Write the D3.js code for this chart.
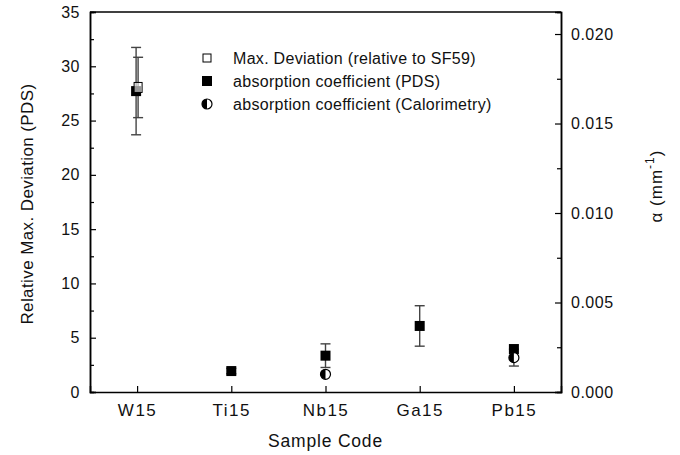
<!DOCTYPE html>
<html>
<head>
<meta charset="utf-8">
<script src="https://cdn.jsdelivr.net/npm/d3@7"></script>
<style>
  body { margin: 0; background: #fff; }
  text { font-family: "Liberation Sans", Arial, sans-serif; fill: #111; }
</style>
</head>
<body>
<div id="container"></div>
<script>
// data
const samples = ["W15", "Ti15", "Nb15", "Ga15", "Pb15"];

// relative max deviation (left axis)
const devSamples = ["W15"];
const devValues = [28.05];
const devErrors = [2.78];

// absorption coefficient PDS (right axis, mm^-1)
const pdsSamples = ["W15", "Ti15", "Nb15", "Ga15", "Pb15"];
const pdsValues = [0.01681, 0.00117, 0.00203, 0.00369, 0.00240];
const pdsErrors = [0.00244, 0.00015, 0.00066, 0.00113, 0];

// absorption coefficient calorimetry (right axis, mm^-1)
const calSamples = ["Nb15", "Pb15"];
const calValues = [0.00099, 0.00192];
const calErrors = [0, 0.00047];

const leftTicks = [0, 5, 10, 15, 20, 25, 30, 35];
const rightTicks = [0, 0.005, 0.010, 0.015, 0.020];

const width = 680, height = 455;
const margin = {top: 12, right: 119, bottom: 63, left: 90};

const svg = d3.select("#container").append("svg")
  .attr("width", width).attr("height", height);

// x positions: categories at 1..5, domain padded half a step
const xScale = d3.scaleLinear()
  .domain([0.5, samples.length + 0.5])
  .range([margin.left, width - margin.right]);
const xOf = s => xScale(samples.indexOf(s) + 1);

const yLeft = d3.scaleLinear()
  .domain([0, 35])
  .range([height - margin.bottom, margin.top]);

const yRight = d3.scaleLinear()
  .domain([0, 0.02123])
  .range([height - margin.bottom, margin.top]);

// frame line on top
svg.append("line")
  .attr("x1", margin.left).attr("x2", width - margin.right)
  .attr("y1", margin.top).attr("y2", margin.top)
  .attr("stroke", "#000").attr("stroke-width", 1.5);

// AXES
const leftAxis = d3.axisLeft(yLeft).tickValues(leftTicks).tickSize(-6).tickPadding(10).tickFormat(d3.format("d"));
const leftMinor = d3.axisLeft(yLeft).tickValues(d3.range(2.5, 35, 5)).tickSize(-4).tickFormat("");
const rightAxis = d3.axisRight(yRight).tickValues(rightTicks).tickSize(-6).tickPadding(10).tickFormat(d3.format(".3f"));
const rightMinor = d3.axisRight(yRight).tickValues(d3.range(0.0025, 0.021, 0.005)).tickSize(-4).tickFormat("");
const bottomAxis = d3.axisBottom(xScale).tickValues(d3.range(1, samples.length + 1))
  .tickSize(-6).tickPadding(12).tickFormat(d => samples[d - 1]);

function styleAxis(g, size, spacing) {
  g.select(".domain").attr("stroke", "#000").attr("stroke-width", 1.5);
  g.selectAll(".tick line").attr("stroke", "#000").attr("stroke-width", 1.2);
  g.selectAll(".tick text").style("font-size", size + "px")
    .style("letter-spacing", spacing + "px").attr("fill", "#111");
}

svg.append("g").attr("transform", `translate(${margin.left},0)`).call(leftMinor).call(styleAxis, 16, 0.5);
svg.append("g").attr("transform", `translate(${margin.left},0)`).call(leftAxis).call(styleAxis, 16, 0.5);
svg.append("g").attr("transform", `translate(${width - margin.right},0)`).call(rightMinor).call(styleAxis, 16, 0.5);
svg.append("g").attr("transform", `translate(${width - margin.right},0)`).call(rightAxis).call(styleAxis, 16, 0.5);
svg.append("g").attr("transform", `translate(0,${height - margin.bottom})`).call(bottomAxis).call(styleAxis, 17, 1.5);

// axis titles
svg.append("text")
  .attr("transform", `translate(33,${(margin.top + height - margin.bottom) / 2 + 2}) rotate(-90)`)
  .attr("text-anchor", "middle").style("font-size", "17px").style("letter-spacing", "0.4px")
  .text("Relative Max. Deviation (PDS)");

const rt = svg.append("text")
  .attr("transform", `translate(662,186) rotate(-90)`)
  .attr("text-anchor", "middle").style("font-size", "17px").style("letter-spacing", "1px");
rt.append("tspan").text("\u03b1 (mm");
rt.append("tspan").attr("dy", -8).style("font-size", "12px").text("-1");
rt.append("tspan").attr("dy", 8).text(")");

svg.append("text")
  .attr("x", xScale(3)).attr("y", 447)
  .attr("text-anchor", "middle").style("font-size", "17.5px").style("letter-spacing", "0.8px")
  .text("Sample Code");

// ERROR BARS
const errColor = "#444";
function errorBars(sel, data, y, cap) {
  const g = sel.append("g");
  const d2 = data.filter(d => d.err > 0);
  g.selectAll("line.v").data(d2).join("line")
    .attr("x1", d => d.x).attr("x2", d => d.x)
    .attr("y1", d => y(d.v + d.err)).attr("y2", d => y(d.v - d.err))
    .attr("stroke", errColor).attr("stroke-width", 1.4);
  g.selectAll("line.t").data(d2).join("line")
    .attr("x1", d => d.x - cap).attr("x2", d => d.x + cap)
    .attr("y1", d => y(d.v + d.err)).attr("y2", d => y(d.v + d.err))
    .attr("stroke", errColor).attr("stroke-width", 1.4);
  g.selectAll("line.b").data(d2).join("line")
    .attr("x1", d => d.x - cap).attr("x2", d => d.x + cap)
    .attr("y1", d => y(d.v - d.err)).attr("y2", d => y(d.v - d.err))
    .attr("stroke", errColor).attr("stroke-width", 1.4);
}

const pdsData = pdsSamples.map((s, i) => ({x: xOf(s) - (s === "W15" ? 1 : 0), v: pdsValues[i], err: pdsErrors[i]}));
const devData = devSamples.map((s, i) => ({x: xOf(s) + 1, v: devValues[i], err: devErrors[i]}));
const calData = calSamples.map((s, i) => ({x: xOf(s), v: calValues[i], err: calErrors[i]}));

errorBars(svg, pdsData, yRight, 5);
errorBars(svg, devData, yLeft, 5);
errorBars(svg, calData, yRight, 5);

// MARKERS
const ms = 10;
svg.selectAll("rect.pds").data(pdsData).join("rect")
  .attr("class", "pds")
  .attr("x", d => d.x - ms / 2).attr("y", d => yRight(d.v) - ms / 2)
  .attr("width", ms).attr("height", ms).attr("fill", "#000");

svg.selectAll("rect.dev").data(devData).join("rect")
  .attr("class", "dev")
  .attr("x", d => d.x - ms / 2 + 1).attr("y", d => yLeft(d.v) - ms / 2)
  .attr("width", ms - 2).attr("height", ms).attr("fill", "#fff").attr("fill-opacity", 0.6)
  .attr("stroke", "#000").attr("stroke-width", 1);

function halfCircle(g, cx, cy, r) {
  g.append("circle").attr("cx", cx).attr("cy", cy).attr("r", r)
    .attr("fill", "#fff").attr("stroke", "#000").attr("stroke-width", 1.2);
  g.append("path")
    .attr("d", `M${cx},${cy - r} A${r},${r} 0 0 0 ${cx},${cy + r} Z`)
    .attr("fill", "#000");
}
calData.forEach(d => halfCircle(svg.append("g"), d.x, yRight(d.v), 5));

// LEGEND
const legend = svg.append("g").attr("transform", "translate(207,0)");
const rows = [58, 81, 104];
legend.append("rect").attr("x", -4).attr("y", rows[0] - 4).attr("width", 8).attr("height", 8)
  .attr("fill", "#fff").attr("stroke", "#000").attr("stroke-width", 1);
legend.append("rect").attr("x", -5).attr("y", rows[1] - 5).attr("width", 10).attr("height", 10)
  .attr("fill", "#000");
halfCircle(legend, 0, rows[2], 5);
const labels = ["Max. Deviation (relative to SF59)", "absorption coefficient (PDS)", "absorption coefficient (Calorimetry)"];
legend.selectAll("text.lg").data(labels).join("text")
  .attr("class", "lg")
  .attr("x", 26).attr("y", (d, i) => rows[i] + 6)
  .style("font-size", "16px").style("letter-spacing", "0.3px")
  .text(d => d);
</script>
</body>
</html>
